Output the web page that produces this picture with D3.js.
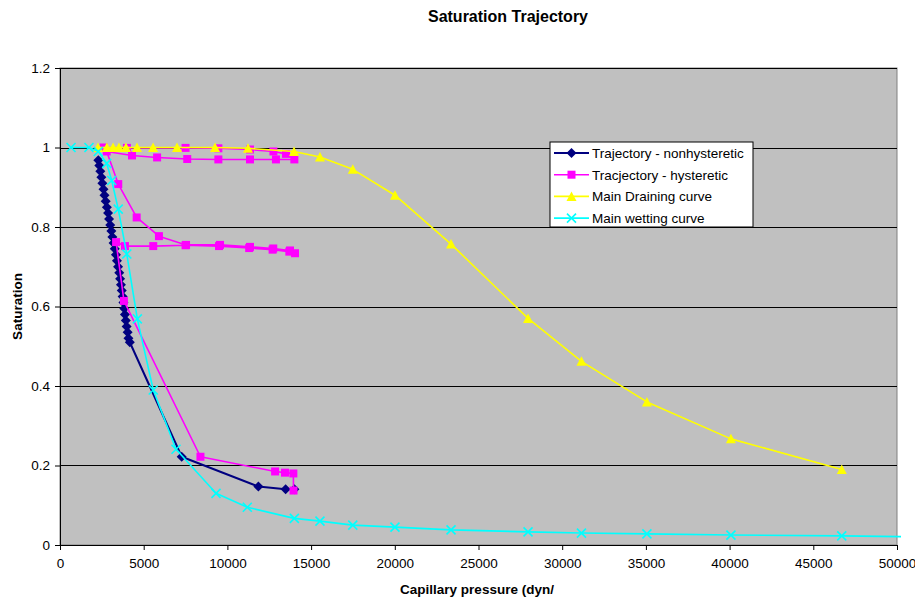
<!DOCTYPE html>
<html>
<head>
<meta charset="utf-8">
<script src="https://cdn.jsdelivr.net/npm/d3@7"></script>
<style>
  body { margin: 0; background: #fff; }
  svg text { font-family: "Liberation Sans", Arial, sans-serif; fill: #000; }
</style>
</head>
<body>
<svg id="chart" width="915" height="600"></svg>
<script>
// ---- data ----
var xTicks = [0, 5000, 10000, 15000, 20000, 25000, 30000, 35000, 40000, 45000, 50000];
var yTicks = [0, 0.2, 0.4, 0.6, 0.8, 1, 1.2];

var seriesNames = ["Trajectory - nonhysteretic", "Tracjectory - hysteretic",
                   "Main Draining curve", "Main wetting curve"];

// [pressure, saturation]
var nonhysteretic = [
  [2290, 0.968], [2350, 0.955], [2410, 0.94], [2470, 0.925], [2530, 0.91],
  [2600, 0.895], [2660, 0.88], [2730, 0.865], [2800, 0.85], [2870, 0.835],
  [2930, 0.82], [3000, 0.805], [3070, 0.79], [3130, 0.775], [3200, 0.76],
  [3270, 0.745], [3340, 0.73], [3400, 0.715], [3470, 0.70], [3540, 0.685],
  [3590, 0.67], [3640, 0.655], [3690, 0.64], [3740, 0.625], [3790, 0.61],
  [3840, 0.595], [3880, 0.58], [3930, 0.565], [3980, 0.55], [4040, 0.535],
  [4090, 0.52], [4170, 0.51],
  [7270, 0.222], [11850, 0.147], [13480, 0.14], [14000, 0.14]
];

var hysteretic = [
  [2600, 1.0], [4000, 0.999], [7500, 0.999], [9460, 0.998], [11350, 0.995],
  [12750, 0.99], [13500, 0.984], [14000, 0.97],
  [12900, 0.97], [11350, 0.97], [9460, 0.97], [7600, 0.971], [5800, 0.975],
  [4300, 0.98], [2790, 0.99],
  [3480, 0.908], [4580, 0.824], [5910, 0.777], [7530, 0.755], [9560, 0.755],
  [11350, 0.75], [12740, 0.746], [13740, 0.741], [14040, 0.734],
  [13700, 0.738], [12700, 0.743], [11300, 0.747], [9500, 0.752], [7500, 0.754],
  [5570, 0.752], [3880, 0.752], [3350, 0.762],
  [3820, 0.614], [8390, 0.222], [12850, 0.185], [13440, 0.182], [13940, 0.18],
  [13950, 0.137]
];

var draining = [
  [2270, 1], [2800, 1], [3170, 1], [3520, 1], [3940, 1], [4600, 1], [5560, 1],
  [6990, 1], [9260, 1], [11230, 0.998], [13980, 0.99], [15530, 0.976],
  [17490, 0.945], [20010, 0.88], [23360, 0.757], [27960, 0.57], [31150, 0.462],
  [35060, 0.36], [40080, 0.267], [46700, 0.19]
];

var wetting = [
  [660, 1.0], [1730, 1.0], [2290, 0.99], [2790, 0.96], [3090, 0.917],
  [3480, 0.845], [3990, 0.732], [4620, 0.569], [5570, 0.39], [6930, 0.241],
  [9320, 0.13], [11190, 0.095], [14000, 0.067], [15530, 0.06], [17490, 0.05],
  [20010, 0.045], [23360, 0.038], [27960, 0.033], [31150, 0.03], [35060, 0.028],
  [40080, 0.025], [46700, 0.023], [52000, 0.02]
];

// ---- layout ----
var svg = d3.select("#chart");
var plotLeft = 60, plotRight = 897, plotTop = 68, plotBottom = 545;

var x = d3.scaleLinear().domain([0, 50000]).range([plotLeft, plotRight]);
var y = d3.scaleLinear().domain([0, 1.2]).range([plotBottom, plotTop]);

svg.append("defs").append("clipPath").attr("id", "plotClip")
  .append("rect").attr("x", plotLeft).attr("y", plotTop - 6)
  .attr("width", plotRight - plotLeft + 4).attr("height", plotBottom - plotTop + 12);

svg.append("rect")
  .attr("x", plotLeft).attr("y", plotTop)
  .attr("width", plotRight - plotLeft).attr("height", plotBottom - plotTop)
  .attr("fill", "#c0c0c0")
  .attr("stroke", "#808080");

// gridlines
svg.append("g").selectAll("line")
  .data(yTicks.filter(function(d) { return d > 0; }))
  .enter().append("line")
  .attr("x1", plotLeft).attr("x2", plotRight)
  .attr("y1", function(d) { return Math.round(y(d)) + 0.5; })
  .attr("y2", function(d) { return Math.round(y(d)) + 0.5; })
  .attr("stroke", "#000").attr("stroke-width", 1);

// axes
var xAxis = svg.append("g")
  .attr("transform", "translate(0," + plotBottom + ")")
  .call(d3.axisBottom(x).tickValues(xTicks).tickSize(5).tickPadding(8)
    .tickFormat(d3.format("d")));
var yAxis = svg.append("g")
  .attr("transform", "translate(" + plotLeft + ",0)")
  .call(d3.axisLeft(y).tickValues(yTicks).tickSize(5).tickPadding(5)
    .tickFormat(function(d) { return String(+d.toFixed(1)); }));
[xAxis, yAxis].forEach(function(a) {
  a.select(".domain").attr("stroke", "#000");
  a.selectAll(".tick line").attr("stroke", "#000");
  a.selectAll("text").style("font-size", "13.5px")
    .style("font-family", "'Liberation Sans', Arial, sans-serif");
});

// series
var line = d3.line()
  .x(function(d) { return x(d[0]); })
  .y(function(d) { return y(d[1]); });

// excel-like marker shapes
var shapes = {
  diamond: "M0,-5L5,0L0,5L-5,0Z",
  square: "M-4,-4H4V4H-4Z",
  triangle: "M0,-5L5,4.5H-5Z",
  x: "M-4.5,-4.5L4.5,4.5M4.5,-4.5L-4.5,4.5"
};

var styles = [
  { data: nonhysteretic, color: "#000080", width: 2, symbol: "diamond" },
  { data: hysteretic, color: "#ff00ff", width: 1.6, symbol: "square" },
  { data: draining, color: "#ffff00", width: 1.6, symbol: "triangle" },
  { data: wetting, color: "#00ffff", width: 1.6, symbol: "x" }
];

function drawMarker(g, s) {
  var p = g.append("path").attr("d", shapes[s.symbol]);
  if (s.symbol === "x") {
    p.attr("stroke", s.color).attr("stroke-width", 1.6).attr("fill", "none");
  } else {
    p.attr("fill", s.color);
  }
}

var plot = svg.append("g").attr("clip-path", "url(#plotClip)");
styles.forEach(function(s) {
  var g = plot.append("g");
  g.append("path")
    .datum(s.data)
    .attr("d", line)
    .attr("fill", "none")
    .attr("stroke", s.color)
    .attr("stroke-width", s.width)
    .attr("stroke-linejoin", "round");
  g.selectAll("g.m")
    .data(s.data)
    .enter().append("g")
    .attr("class", "m")
    .attr("transform", function(d) { return "translate(" + x(d[0]) + "," + y(d[1]) + ")"; })
    .each(function() { drawMarker(d3.select(this), s); });
});

// titles
svg.append("text")
  .attr("x", 508).attr("y", 22)
  .attr("text-anchor", "middle")
  .style("font-size", "16px").style("font-weight", "bold")
  .text("Saturation Trajectory");

svg.append("text")
  .attr("x", 477).attr("y", 594)
  .attr("text-anchor", "middle")
  .style("font-size", "13.5px").style("font-weight", "bold")
  .text("Capillary pressure (dyn/");

svg.append("text")
  .attr("transform", "translate(22," + ((plotTop + plotBottom) / 2) + ") rotate(-90)")
  .attr("text-anchor", "middle")
  .style("font-size", "13.5px").style("font-weight", "bold")
  .text("Saturation");

// legend
var legend = svg.append("g").attr("transform", "translate(550,142)");
legend.append("rect")
  .attr("x", 0).attr("y", 0).attr("width", 203).attr("height", 85)
  .attr("fill", "#fff").attr("stroke", "#000");
var rows = legend.selectAll("g.row")
  .data(styles)
  .enter().append("g")
  .attr("class", "row")
  .attr("transform", function(d, i) { return "translate(0," + (11 + i * 21.7) + ")"; });
rows.append("line")
  .attr("x1", 4).attr("x2", 39).attr("y1", 0).attr("y2", 0)
  .attr("stroke", function(d) { return d.color; })
  .attr("stroke-width", function(d) { return d.width; });
rows.append("g")
  .attr("transform", "translate(21.5,0)")
  .each(function(d) { drawMarker(d3.select(this), d); });
rows.append("text")
  .attr("x", 42).attr("y", 5)
  .style("font-size", "13.5px")
  .text(function(d, i) { return seriesNames[i]; });
</script>
</body>
</html>
